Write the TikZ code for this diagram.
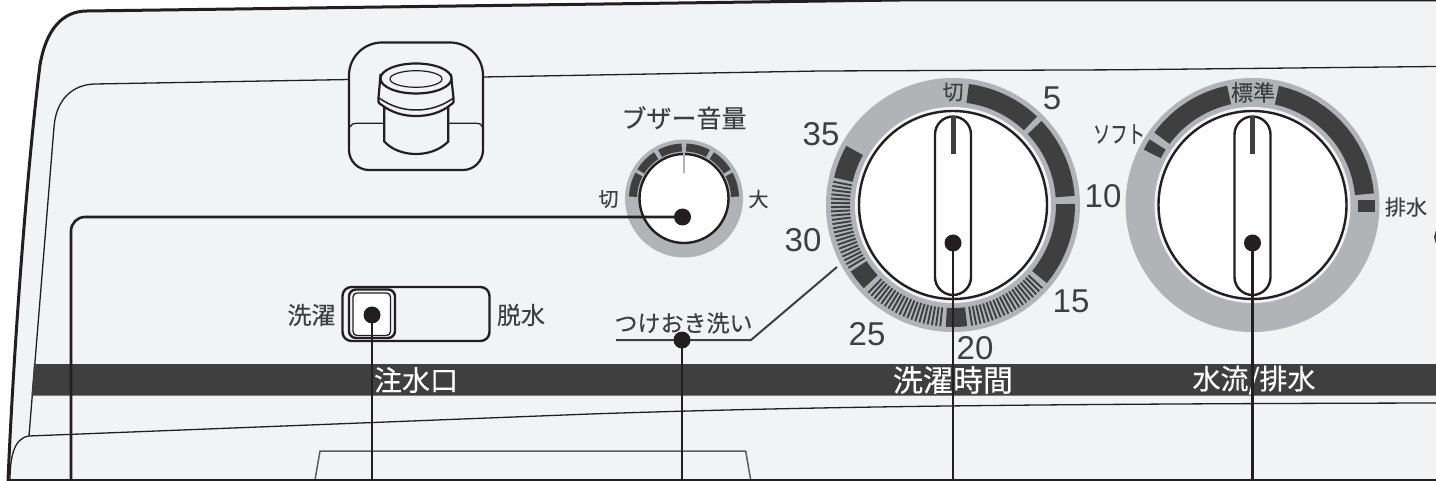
\documentclass[tikz,border=0pt]{standalone}
\usepackage{fontspec}
\setmainfont{Noto Sans CJK JP}[FakeBold=0.25]
\newfontfamily\digitfont{Liberation Sans}
\definecolor{bgpanel}{HTML}{F1F3F5}
\definecolor{ringgray}{HTML}{B1B3B6}
\definecolor{ink}{HTML}{3F3F3F}
\definecolor{blk}{HTML}{231F20}
\newcommand{\ringseg}[4]{\fill[ink] plot[domain=#3:#4,samples=16] ({\x-90}:#2) -- plot[domain=#4:#3,samples=16] ({\x-90}:#1) -- cycle;}
\newcommand{\hatchrun}[2]{\foreach \t in {#1,#2}{\draw[ink,line width=1.9pt] ({\t-90}:103) -- ({\t-90}:122);}}
\tikzset{
  lab/.style={inner sep=0pt,text=ink,font=\fontsize{#1}{#1}\selectfont},
  numlab/.style={inner sep=0pt,text=ink,font=\digitfont\fontsize{33}{33}\selectfont},
  bandlab/.style={inner sep=0pt,text=white,font=\fontsize{#1}{#1}\selectfont},
  dot/.style={circle,fill=blk,inner sep=0pt,minimum size=17pt},
  leader/.style={draw=blk,line width=2.6pt},
  knob/.style={draw=blk,line width=2.4pt},
  thin/.style={draw=blk,line width=1.3pt},
  capline/.style={draw=blk,line width=2.2pt,fill=bgpanel}
}
\begin{document}
\begin{tikzpicture}[x=1pt,y=-1pt]
\useasboundingbox (0,0) rectangle (1436,481);
\clip (0,0) rectangle (1436,481);
\fill[white] (0,0) rectangle (1436,481);
% panel
\fill[bgpanel] (8,480) .. controls (14,340) and (28,160) .. (40,65) .. controls (46,30) and (62,11) .. (87,11) -- (900,0) -- (1436,0) -- (1436,480) -- cycle;
\draw[blk,line width=3pt] (8,481) .. controls (14,340) and (28,160) .. (40,65) .. controls (46,30) and (62,11) .. (87,11) -- (900,0) -- (1440,0);
% inner contour
\draw[thin] (29,436) -- (54,127) .. controls (56,100) and (72,84.5) .. (95,84) -- (350,79.5);
\draw[thin] (483,77) -- (820,71) -- (1120,69.8) -- (1436,66.5);
\draw[thin] (10,480) .. controls (10,460) and (13,438) .. (29,436) -- (590,414) .. controls (800,407) and (1000,404) .. (1436,403);
% band
\fill[ink] (34,364) -- (1436,364) -- (1436,395.5) -- (31.5,395.5) -- cycle;
% trapezoid and base line
\draw[draw=ink!85,line width=1.5pt] (315,480) -- (320,451) -- (745.7,451) -- (750.7,480);
\draw[blk,line width=2pt] (8,480) -- (1436,480);
% cap housing
\draw[capline] (349,75.5) .. controls (349,57) and (364,42.5) .. (382,42.5) -- (450,42.5) .. controls (468,42.5) and (483,57) .. (483,75.5) -- (483,150) .. controls (483,161) and (474,170) .. (463,170) -- (369,170) .. controls (358,170) and (349,161) .. (349,150) -- cycle;
\draw[blk,line width=1.3pt] (350,127) .. controls (351,124.5) and (353,123.3) .. (357,123.3) -- (384,123.3);
\draw[blk,line width=1.3pt] (448,123.3) -- (476,123.3) .. controls (480,123.3) and (482,124.5) .. (482.5,127);
\draw[capline] (384.3,108) -- (384.3,141.5) .. controls (392,150) and (404,154) .. (416,154) .. controls (428,154) and (440,150) .. (448.3,141.5) -- (448.3,108) -- cycle;
\draw[capline] (380.5,75) -- (378.5,98) .. controls (378,101) and (378,103) .. (381,104.5) .. controls (392,113) and (404,116) .. (416,116) .. controls (428,116) and (441,113) .. (451,104.5) .. controls (454,103) and (454,101) .. (453.5,98) -- (451,75) -- cycle;
\draw[blk,line width=1.5pt] (379,98) .. controls (392,107) and (404,110) .. (416,110) .. controls (428,110) and (441,107) .. (453.5,98);
\draw[capline] (416,78.5) ellipse [x radius=35.5,y radius=15];
\draw[blk,line width=1.2pt] (416,79) ellipse [x radius=26,y radius=8.3];
% timer dial
\begin{scope}[shift={(953,205)}]
\fill[ringgray] (0,0) circle [radius=127];
\fill[bgpanel] (0,0) circle [radius=98];
\ringseg{103}{122}{7.5}{43.5}
\ringseg{103}{122}{46.5}{85.7}
\ringseg{103}{122}{89.5}{129.8}
\ringseg{103}{122}{173.3}{183.4}
\ringseg{103}{122}{227}{237}
\ringseg{103}{122}{283}{299}
\hatchrun{133}{135,...,171.5}
\hatchrun{186}{188,...,225.5}
\hatchrun{239}{241,...,281.5}
\draw[knob,fill=white] (0,0) circle [radius=94];
\end{scope}
% flow dial
\begin{scope}[shift={(1252.5,205)}]
\fill[ringgray] (0,0) circle [radius=127];
\fill[bgpanel] (0,0) circle [radius=98];
\ringseg{103}{122}{12.5}{84.5}
\fill[ink] (105,-5) rectangle (122,7.5);
\ringseg{103}{122}{-53.6}{-12}
\ringseg{103}{122}{-63}{-57.5}
\draw[knob,fill=white] (0,0) circle [radius=94];
\end{scope}
% buzzer dial
\begin{scope}[shift={(684,198.5)}]
\fill[ringgray] (0,0) circle [radius=59];
\ringseg{47}{55}{-88}{-62}
\ringseg{47}{55}{-58}{-33}
\ringseg{47}{55}{-28}{-2.5}
\ringseg{47}{55}{2.5}{28}
\ringseg{47}{55}{33}{58}
\ringseg{47}{55}{62}{88}
\draw[knob,fill=white] (0,0) circle [radius=44.5];
\draw[ringgray,line width=2pt] (0,-45) -- (0,-25);
\end{scope}
% pointers
\draw[knob,fill=white,rounded corners=18pt] (935,116.5) rectangle (971,295);
\fill[ink] (950.5,116.5) rectangle (955.5,154);
\draw[knob,fill=white,rounded corners=18pt] (1234.5,116.5) rectangle (1270.5,295);
\fill[ink] (1250,116.5) rectangle (1255,154);
% slider
\draw[knob,rounded corners=9pt] (342.5,287) rectangle (489.5,341);
\draw[knob,fill=bgpanel,rounded corners=7pt] (349,289.5) rectangle (395,338);
\draw[draw=blk,line width=1.3pt,fill=white,rounded corners=4pt] (353,293) rectangle (390.5,335.5);
% soak label rule
\coordinate (soakend) at (837,267);
\coordinate (soakleft) at (616,340);
\coordinate (soakknee) at (751,340);
\draw[ink,line width=2pt] (soakleft) -- (soakknee) -- (soakend);
% labels
\node[lab=25] (buzzer) at (684,118) {ブザー音量};
\node[lab=20] (bkiri) at (608.5,199) {切};
\node[lab=20] (bdai) at (758.5,199) {大};
\node[lab=24] (wash) at (311.5,315) {洗濯};
\node[lab=24] (spin) at (521,315) {脱水};
\node[lab=23] (soak) at (683.5,323) {つけおき洗い};
\node[lab=21] (tkiri) at (953,92) {切};
\node[numlab] (t5) at (1052,98) {5};
\node[numlab] (t10) at (1103,196) {10};
\node[numlab] (t15) at (1071,301) {15};
\node[numlab] (t20) at (975,348) {20};
\node[numlab] (t25) at (867,334) {25};
\node[numlab] (t30) at (803,240) {30};
\node[numlab] (t35) at (821,134) {35};
\node[lab=22] (std) at (1253,92.5) {標準};
\node[lab=24] (soft) at (1119,134) {\scalebox{0.72}[1]{ソフト}};
\node[lab=21] (drain) at (1406,207) {排水};
\node[bandlab=28] (bin) at (416,380) {注水口};
\node[bandlab=30] (btime) at (953,380) {洗濯時間};
\node[bandlab=28] (bflow) at (1254,380) {水流/排水};
% connector ends
\coordinate (e1) at (71,481);
\coordinate (e2) at (372,481);
\coordinate (e3) at (682,481);
\coordinate (e4) at (953,481);
\coordinate (e5) at (1252.5,481);
\node[dot] (d1) at (682.5,217) {};
\node[dot] (d2) at (372,315) {};
\node[dot] (d3) at (682,340) {};
\node[dot] (d4) at (953,243) {};
\node[dot] (d5) at (1252.5,243) {};
\draw[leader,rounded corners=14pt] (d1.center) -| (e1);
\draw[leader] (d2.center) -- (e2);
\draw[leader] (d3.center) -- (e3);
\draw[leader] (d4.center) -- (e4);
\draw[leader] (d5.center) -- (e5);
% fragment of next dial at the right edge
\draw[ink,line width=1.6pt] (1436.5,231) -- (1434.8,237) -- (1436.5,243);
\end{tikzpicture}
\end{document}
